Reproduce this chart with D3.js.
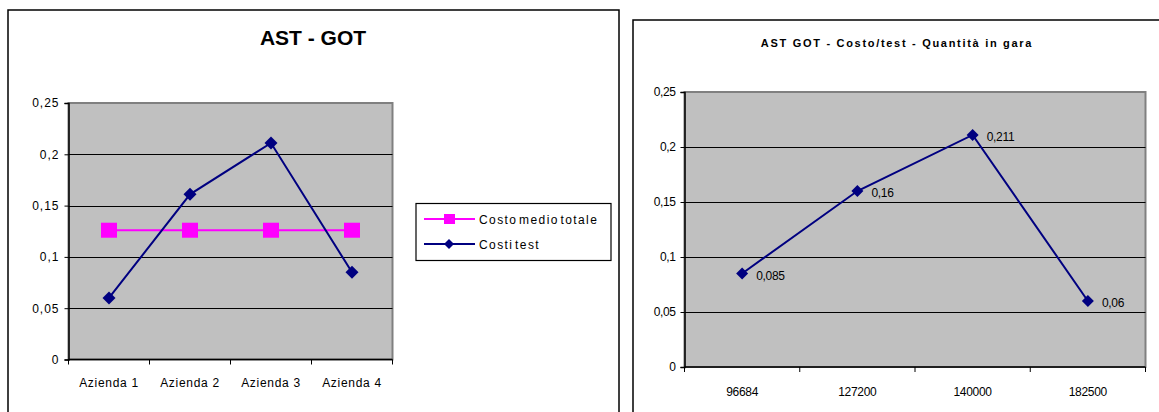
<!DOCTYPE html>
<html><head><meta charset="utf-8">
<script src="https://cdn.jsdelivr.net/npm/d3@7"></script>
<style>
html,body{margin:0;padding:0;background:#fff;}
svg{display:block;font-family:"Liberation Sans",Arial,sans-serif;}
</style></head>
<body>
<svg id="c" width="1159" height="412"></svg>
<script>
// ---- data ----
const leftCategories = ["Azienda 1", "Azienda 2", "Azienda 3", "Azienda 4"];
const costoMedioTotale = [0.126, 0.126, 0.126, 0.126];
const costiTest = [0.06, 0.161, 0.211, 0.085];
const yTicks = [0, 0.05, 0.1, 0.15, 0.2, 0.25];
const leftSeriesNames = ["Costo medio totale", "Costi test"];
const leftTitle = "AST - GOT";

const rightCategories = ["96684", "127200", "140000", "182500"];
const rightValues = [0.085, 0.16, 0.211, 0.06];
const rightTitle = "AST GOT - Costo/test - Quantità in gara";

// ---- helpers ----
const loc = d3.formatLocale({decimal: ",", thousands: ".", grouping: [3], currency: ["", "€"]});
const fmtTick = loc.format(".2~f");
const fmtLabel = loc.format(".3~f");
const NAVY = "#000080", PINK = "#ff00ff", BG = "#c0c0c0";
const svg = d3.select("#c");

function diamond(g, cx, cy, r, color) {
  g.append("path")
    .attr("d", `M${cx},${cy - r}L${cx + r},${cy}L${cx},${cy + r}L${cx - r},${cy}Z`)
    .attr("fill", color);
}

function drawPlot(g, cats, x, y, tickFontSize, tickSpacing, catFontSize, catSpacing, catY) {
  const [x0, x1] = x.range();
  const [y0, y1] = y.range();
  g.append("rect").attr("x", x0).attr("y", y1).attr("width", x1 - x0).attr("height", y0 - y1)
    .attr("fill", BG).attr("stroke", "#808080").attr("stroke-width", 2);
  g.selectAll(".grid").data(yTicks.filter(t => t > 0 && t < 0.25)).join("line")
    .attr("x1", x0).attr("x2", x1).attr("y1", d => Math.round(y(d)) + 0.5).attr("y2", d => Math.round(y(d)) + 0.5)
    .attr("stroke", "#000").attr("stroke-width", 1);
  const ya = g.append("g").attr("transform", `translate(${x0},0)`)
    .call(d3.axisLeft(y).tickValues(yTicks).tickFormat(fmtTick).tickSize(4).tickPadding(5));
  ya.select(".domain").attr("stroke", "#000").attr("stroke-width", 1.5);
  ya.selectAll(".tick line").attr("stroke", "#000");
  ya.selectAll(".tick text").attr("font-size", tickFontSize).attr("fill", "#000")
    .attr("font-family", "Liberation Sans, Arial, sans-serif").style("letter-spacing", tickSpacing + "px");
  g.append("line").attr("x1", x0).attr("x2", x1).attr("y1", y0).attr("y2", y0)
    .attr("stroke", "#000").attr("stroke-width", 1.5);
  const bounds = cats.map(c => x(c)).concat([x1]);
  g.selectAll(".xt").data(bounds).join("line")
    .attr("x1", d => d).attr("x2", d => d).attr("y1", y0).attr("y2", y0 + 5)
    .attr("stroke", "#000");
  g.selectAll(".xl").data(cats).join("text")
    .attr("x", d => x(d) + x.bandwidth() / 2).attr("y", catY)
    .attr("text-anchor", "middle").attr("font-size", catFontSize)
    .style("letter-spacing", catSpacing + "px").text(d => d);
}

// ================= LEFT CHART =================
svg.append("rect").attr("x", 8).attr("y", 10).attr("width", 611).attr("height", 420)
  .attr("fill", "#fff").attr("stroke", "#000").attr("stroke-width", 1.5);
const gl = svg.append("g");
gl.append("text").attr("x", 313).attr("y", 45).attr("text-anchor", "middle")
  .attr("font-size", 21).attr("font-weight", "bold").text(leftTitle);

const xL = d3.scaleBand().domain(leftCategories).range([68.5, 392.5]).padding(0);
const yL = d3.scaleLinear().domain([0, 0.25]).range([359.5, 103]);
drawPlot(gl, leftCategories, xL, yL, 12, 1.0, 12, 0.7, 387);

const lineL = d3.line().x((d, i) => xL(leftCategories[i]) + xL.bandwidth() / 2).y(d => yL(d));
gl.append("path").datum(costoMedioTotale).attr("d", lineL).attr("fill", "none")
  .attr("stroke", PINK).attr("stroke-width", 2);
gl.append("path").datum(costiTest).attr("d", lineL).attr("fill", "none")
  .attr("stroke", NAVY).attr("stroke-width", 2);
costoMedioTotale.forEach((v, i) => {
  const cx = xL(leftCategories[i]) + xL.bandwidth() / 2;
  gl.append("rect").attr("x", cx - 8).attr("y", yL(v) - 7.5).attr("width", 16).attr("height", 15).attr("fill", PINK);
});
costiTest.forEach((v, i) => {
  diamond(gl, xL(leftCategories[i]) + xL.bandwidth() / 2, yL(v), 6.5, NAVY);
});

// legend
const lg = gl.append("g");
lg.append("rect").attr("x", 416).attr("y", 203.5).attr("width", 195).attr("height", 57)
  .attr("fill", "#fff").attr("stroke", "#000").attr("stroke-width", 1.2);
[[PINK, 219], [NAVY, 244]].forEach(([col, yy], i) => {
  lg.append("line").attr("x1", 424).attr("x2", 475).attr("y1", yy).attr("y2", yy)
    .attr("stroke", col).attr("stroke-width", 2);
  if (i === 0) lg.append("rect").attr("x", 444).attr("y", yy - 5).attr("width", 11).attr("height", 10).attr("fill", PINK);
  else diamond(lg, 449, yy, 5, NAVY);
  lg.append("text").attr("x", 479).attr("y", yy + 4.5).attr("font-size", 12)
    .style("letter-spacing", "1.4px").style("word-spacing", "-3px").text(leftSeriesNames[i]);
});

// ================= RIGHT CHART =================
svg.append("rect").attr("x", 633).attr("y", 20).attr("width", 540).attr("height", 420)
  .attr("fill", "#fff").attr("stroke", "#000").attr("stroke-width", 1.5);
const gr = svg.append("g");
gr.append("text").attr("x", 897).attr("y", 46.5).attr("text-anchor", "middle")
  .attr("font-size", 11).attr("font-weight", "bold").style("letter-spacing", "1.7px").text(rightTitle);

const xR = d3.scaleBand().domain(rightCategories).range([684.5, 1145.5]).padding(0);
const yR = d3.scaleLinear().domain([0, 0.25]).range([367, 92]);
drawPlot(gr, rightCategories, xR, yR, 12, -0.4, 12, -0.3, 396);

const lineR = d3.line().x((d, i) => xR(rightCategories[i]) + xR.bandwidth() / 2).y(d => yR(d));
gr.append("path").datum(rightValues).attr("d", lineR).attr("fill", "none")
  .attr("stroke", NAVY).attr("stroke-width", 2);
rightValues.forEach((v, i) => {
  const cx = xR(rightCategories[i]) + xR.bandwidth() / 2;
  diamond(gr, cx, yR(v), 6, NAVY);
  gr.append("text").attr("x", cx + 14).attr("y", yR(v) + 6).attr("font-size", 12)
    .style("letter-spacing", "-0.3px").text(fmtLabel(v));
});
</script>
</body></html>
